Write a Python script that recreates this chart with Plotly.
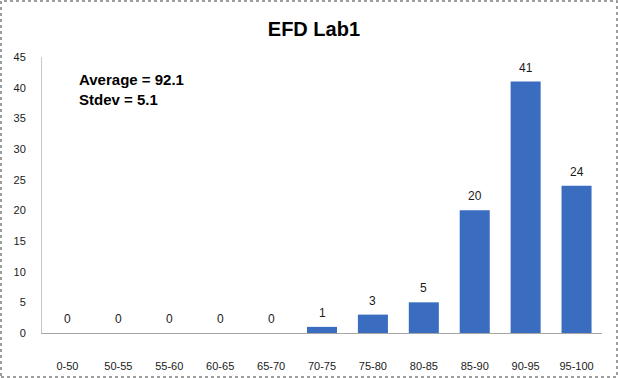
import plotly.graph_objects as go

categories = ["0-50", "50-55", "55-60", "60-65", "65-70", "70-75",
              "75-80", "80-85", "85-90", "90-95", "95-100"]
counts = [0, 0, 0, 0, 0, 1, 3, 5, 20, 41, 24]
y_ticks = [0, 5, 10, 15, 20, 25, 30, 35, 40, 45]
title_text = "EFD Lab1"
stats_text = "Average = 92.1<br>Stdev = 5.1"

W, H = 618, 378
ml, mr, mt, mb = 42, 16, 57, 45
pw, ph = W - ml - mr, H - mt - mb

FONT = "Liberation Sans, Arial, sans-serif"

fig = go.Figure()
fig.add_trace(go.Bar(
    x=categories, y=counts,
    marker=dict(color="#3a6cc0", line=dict(width=0)),
    hoverinfo="x+y",
))

annotations = []
for c, v in zip(categories, counts):
    annotations.append(dict(x=c, y=v, xref="x", yref="y", text=str(v),
                            showarrow=False, yshift=14,
                            font=dict(family=FONT, size=12, color="#1a1a1a")))
annotations.append(dict(x=(77 - ml) / pw, y=1 - (69 - mt) / ph, xref="paper", yref="paper",
                        xanchor="left", yanchor="top", align="left",
                        text="<b>" + stats_text + "</b>", showarrow=False,
                        font=dict(family=FONT, size=15, color="#000000")))

border = dict(type="rect", xref="paper", yref="paper",
              x0=-(ml - 1) / pw, x1=(W - 1 - ml) / pw,
              y0=-(mb - 1) / ph, y1=1 + (mt - 1) / ph,
              line=dict(color="#7f7f7f", width=1.5, dash="dot"),
              fillcolor="rgba(0,0,0,0)", layer="above")

fig.update_layout(
    width=W, height=H,
    margin=dict(l=ml, r=mr, t=mt, b=mb, pad=0, autoexpand=False),
    paper_bgcolor="white", plot_bgcolor="white",
    title=dict(text="<b>" + title_text + "</b>", x=0.508, xanchor="center",
               y=1 - 29 / H, yanchor="middle",
               font=dict(family=FONT, size=20, color="#000000")),
    bargap=0.41,
    showlegend=False,
    annotations=annotations,
    shapes=[border],
    xaxis=dict(type="category", showgrid=False, showline=True, automargin=False,
               linecolor="#a6a6a6", linewidth=1, ticks="",
               ticklabelstandoff=23,
               tickfont=dict(family=FONT, size=11, color="#1a1a1a")),
    yaxis=dict(range=[0, 45], tickvals=y_ticks, showgrid=False, showline=True,
               automargin=False,
               linecolor="#c8c8c8", linewidth=1, ticks="", zeroline=False,
               ticklabelstandoff=13,
               tickfont=dict(family=FONT, size=11, color="#1a1a1a")),
)

fig.write_html("out.html", config={"displayModeBar": False},
               post_script="document.body.style.margin='0';document.body.style.overflow='hidden';")
